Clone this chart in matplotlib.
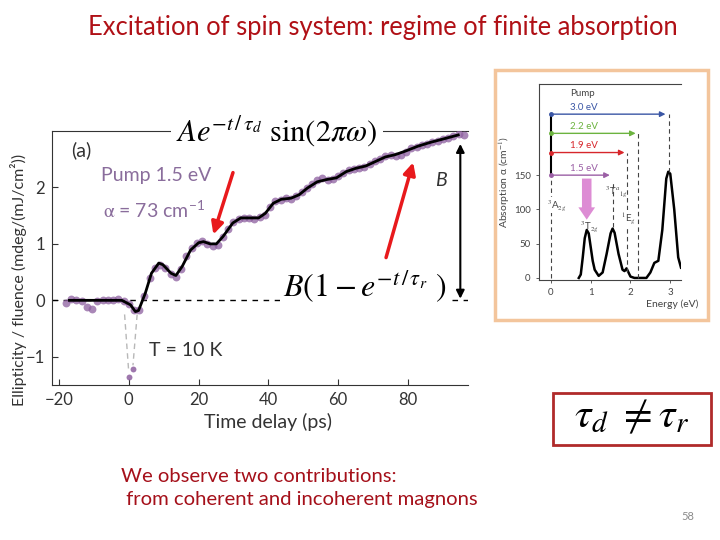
import matplotlib
matplotlib.use("Agg")
import matplotlib.pyplot as plt
from matplotlib.patches import Rectangle, FancyArrow

plt.rcParams['mathtext.fontset'] = 'stix'
plt.rcParams['font.family'] = ['Lato', 'DejaVu Sans']

# fit curve of the ellipticity signal (ps, mdeg/(mJ/cm2))
fit_t = [-17, -10, -2, 0.5, 1.9, 2.8, 4.7, 6.5, 8.6, 9.8, 12.1, 13.5, 15.3, 17.7, 20, 21.4,
         23.3, 25.1, 27, 29.8, 32.1, 34.4, 37.2, 39.1, 41.4, 43.7, 46.5, 48.8, 51.2, 54,
         56.7, 59.5, 62.3, 65.1, 67.9, 70.7, 73.5, 76.3, 79.1, 82.8, 86.5, 90.2, 94.4]
fit_y = [0.0, 0.0, 0.0, -0.08, -0.2, -0.18, 0.12, 0.48, 0.66, 0.63, 0.48, 0.44, 0.6, 0.89, 1.02, 1.04,
         1.0, 1.0, 1.13, 1.37, 1.46, 1.46, 1.46, 1.54, 1.72, 1.79, 1.81, 1.87, 1.99, 2.1,
         2.14, 2.17, 2.28, 2.34, 2.38, 2.46, 2.54, 2.58, 2.64, 2.73, 2.8, 2.86, 2.93]

# measured points
dot_t = [-18, -16.5, -15, -13.5, -12, -10.5, -9, -7.5, -6, -4.5, -3, -1.5, 0, 1.5, 3, 4.5,
         6, 7.5, 9, 10.5, 12, 13.5, 15, 16.5, 18, 19.5, 21, 22.5, 24, 25.5, 27, 28.5, 30,
         31.5, 33, 34.5, 36, 37.5, 39, 40.5, 42, 43.5, 45, 46.5, 48, 49.5, 51, 52.5, 54,
         55.5, 57, 58.5, 60, 61.5, 63, 64.5, 66, 67.5, 69, 70.5, 72, 73.5, 75, 76.5, 78,
         79.5, 81, 82.5, 84, 85.5, 87, 88.5, 90, 91.5, 93, 94.5, 96]
dot_y = [-0.04, 0.02, 0.0, -0.02, -0.12, -0.15, -0.02, 0.0, 0.01, 0.0, 0.02, -0.02, -0.07,
         -0.18, -0.17, 0.08, 0.40, 0.58, 0.62, 0.58, 0.46, 0.42, 0.55, 0.78, 0.92, 1.02,
         1.05, 1.00, 0.97, 0.98, 1.12, 1.27, 1.38, 1.44, 1.45, 1.46, 1.44, 1.47, 1.52,
         1.66, 1.76, 1.78, 1.82, 1.80, 1.84, 1.92, 1.99, 2.06, 2.13, 2.16, 2.14, 2.15,
         2.20, 2.25, 2.31, 2.33, 2.35, 2.37, 2.42, 2.46, 2.50, 2.55, 2.57, 2.56, 2.58,
         2.62, 2.69, 2.72, 2.75, 2.77, 2.81, 2.83, 2.85, 2.88, 2.92, 2.94, 2.93]
spike_t = [0.0, 1.2]
spike_y = [-1.35, -1.22]

# absorption spectrum (eV, cm-1)
abs_e = [0.7, 0.75, 0.8, 0.85, 0.9, 0.95, 1.0, 1.05, 1.1, 1.2, 1.3, 1.4, 1.5, 1.55, 1.6,
         1.7, 1.8, 1.85, 1.9, 1.95, 2.0, 2.1, 2.4, 2.5, 2.6, 2.7, 2.8, 2.9, 2.95, 3.0,
         3.1, 3.2, 3.27]
abs_a = [0, 5, 30, 58, 70, 65, 45, 25, 12, 3, 8, 35, 65, 72, 66, 35, 12, 10, 14, 8, 2, 0,
         0, 8, 22, 25, 70, 145, 155, 152, 100, 30, 15]

pump_e = [3.0, 2.2, 1.9, 1.5]
pump_level = [239, 211, 183, 150]
pump_labels = ['3.0 eV', '2.2 eV', '1.9 eV', '1.5 eV']
pump_tip = [2.95, 2.2, 1.92, 1.55]
pump_colors = ['#3a56a5', '#6cb33f', '#d7262b', '#9b5fa5']

purple = '#8d5f9f'
txt = '#333333'

fig = plt.figure(figsize=(7.2, 5.4), dpi=100)

# ---------------- main panel
ax = fig.add_axes([52 / 720, 155 / 540, 416 / 720, 254 / 540])
ax.set_xlim(-22, 97.2)
ax.set_ylim(-1.5, 3.0)
ax.spines['right'].set_visible(False)
for s in ['left', 'bottom', 'top']:
    ax.spines[s].set_color(txt)
ax.set_xticks([-20, 0, 20, 40, 60, 80])
ax.set_xticklabels(['\u221220', '0', '20', '40', '60', '80'])
ax.set_yticks([-1, 0, 1, 2])
ax.set_yticklabels(['\u22121', '0', '1', '2'])
ax.tick_params(labelsize=12, colors=txt, length=4, direction='in', pad=5)

ax.axhline(0, color='black', lw=1, dashes=(4, 4))
ax.plot([-1.2, 0.0], [-0.25, -1.28], color='#b8b8b8', lw=1, dashes=(4, 3))
ax.plot([2.4, 1.2], [-0.25, -1.15], color='#b8b8b8', lw=1, dashes=(4, 3))
ax.scatter(dot_t, dot_y, s=32, color=purple, alpha=0.75, lw=0, zorder=3)
ax.scatter(spike_t, spike_y, s=18, color=purple, alpha=0.85, lw=0, zorder=3)
ax.plot(fit_t, fit_y, color='black', lw=2, zorder=4)

ax.text(-16.5, 2.66, '(a)', fontsize=14, color=txt, va='center')
ax.text(-7.9, 2.22, 'Pump 1.5 eV', fontsize=14, color='#8a6d9c', va='center')
ax.text(-7.5, 1.6, r'$\mathrm{\alpha}$ = 73 cm$^{\mathregular{-1}}$', fontsize=14, color='#8a6d9c', va='center')
ax.text(5.7, -0.89, 'T = 10 K', fontsize=14, color=txt, va='center')
ax.text(89.5, 2.13, 'B', fontsize=14, color=txt, style='italic', va='center', ha='center')
ax.annotate('', xy=(95, -0.02), xytext=(95, 2.82),
            arrowprops=dict(arrowstyle='<|-|>', color='black', lw=1.5, mutation_scale=12))

ax.annotate('', xy=(24, 1.12), xytext=(30.1, 2.31),
            arrowprops=dict(arrowstyle='-|>', color='#e8191c', lw=2.5, mutation_scale=18), zorder=6)
ax.annotate('', xy=(81.7, 2.49), xytext=(73.5, 0.71),
            arrowprops=dict(arrowstyle='-|>', color='#e8191c', lw=2.5, mutation_scale=18), zorder=6)

fig.text(19 / 720, 1 - 280 / 540, 'Ellipticity / fluence (mdeg/(mJ/cm\u00b2))', rotation=90,
         fontsize=11.5, color=txt, ha='center', va='center')
fig.text(268 / 720, 1 - 422 / 540, 'Time delay (ps)', fontsize=14, color=txt, ha='center', va='center')

fig.text(277 / 720, 1 - 131 / 540, r'$Ae^{-t\,/\,\tau_d}\ \mathrm{sin}(2\pi\omega)$', fontsize=22,
         ha='center', va='center', bbox=dict(facecolor='white', edgecolor='none', pad=4), zorder=10)
fig.text(365 / 720, 1 - 287 / 540, r'$B(1-e^{-t\,/\,\tau_r}\ )$', fontsize=23,
         ha='center', va='center', bbox=dict(facecolor='white', edgecolor='none', pad=2), zorder=10)

# ---------------- inset with absorption spectrum
fig.patches.append(Rectangle((495 / 720, 220 / 540), 213 / 720, 250 / 540, transform=fig.transFigure,
                             facecolor='none', edgecolor='#f3c59c', lw=2.5))
axi = fig.add_axes([539 / 720, 260 / 540, 142 / 720, 196 / 540])
axi.set_xlim(-0.3, 3.27)
axi.set_ylim(-3, 283)
axi.spines['right'].set_visible(False)
for s in ['left', 'bottom', 'top']:
    axi.spines[s].set_color('#444444')
    axi.spines[s].set_linewidth(0.8)
axi.set_xticks([0, 1, 2, 3])
axi.set_yticks([0, 50, 100, 150])
axi.tick_params(labelsize=7, colors='#444444', length=2.5, width=0.6)
axi.set_ylabel('Absorption \u03b1 (cm$^{-1}$)', fontsize=7.5, color='#444444', labelpad=1)

axi.plot(abs_e, abs_a, color='black', lw=1.8)
axi.plot([0, 0], [0, 150], color='#444444', lw=0.8, dashes=(4, 3))
axi.plot([0, 0], [150, pump_level[0]], color='black', lw=1.5)
axi.text(0.48, 269, 'Pump', fontsize=7, color='#444444', va='center')
for e, lv, lab, tip, c in zip(pump_e, pump_level, pump_labels, pump_tip, pump_colors):
    axi.annotate('', xy=(tip, lv), xytext=(0, lv),
                 arrowprops=dict(arrowstyle='-|>', color=c, lw=1, mutation_scale=8))
    axi.plot(0, lv, 'o', color=c, ms=2.5)
    axi.text(0.48, lv + 10, lab, fontsize=7, color=c, va='center')
axi.plot([2.97, 2.97], [155, pump_level[0]], color='#444444', lw=0.8, dashes=(4, 3))
axi.plot([2.2, 2.2], [0, pump_level[1]], color='#444444', lw=0.8, dashes=(4, 3))
axi.plot([1.92, 1.92], [8, pump_level[2]], color='#444444', lw=0.8, dashes=(4, 3))
axi.plot([1.55, 1.55], [75, pump_level[3] - 10], color='#444444', lw=0.8, dashes=(4, 3))
axi.text(-0.1, 106, '$^3$A$_{2g}$', fontsize=7, color='#444444', va='center', ha='left',
         bbox=dict(facecolor='white', edgecolor='none', pad=0.5))
axi.text(1.36, 126, '$^3$T$^a$$_{1g}$', fontsize=7, color='#444444', va='center')
axi.text(1.76, 87, '$^1$E$_g$', fontsize=7, color='#444444', va='center',
         bbox=dict(facecolor='white', edgecolor='none', pad=0.3))
axi.text(0.72, 75, '$^3$T$_{2g}$', fontsize=7, color='#444444', va='center')
axi.add_patch(FancyArrow(0.9, 145, 0, -60, width=0.24, head_width=0.42, head_length=18,
                         length_includes_head=True, color='#dc86d2', lw=0, alpha=0.95, zorder=5))
fig.text(672 / 720, 1 - 304 / 540, 'Energy (eV)', fontsize=7.5, color='#444444', ha='center', va='center')

# ---------------- slide text
fig.text(383 / 720, 1 - 27 / 540, 'Excitation of spin system: regime of finite absorption',
         fontsize=18.4, color='#b01016', ha='center', va='center')
fig.text(121 / 720, 1 - 477 / 540, 'We observe two contributions:', fontsize=14.6,
         color='#a5101a', ha='left', va='center')
fig.text(121 / 720, 1 - 500 / 540, ' from coherent and incoherent magnons', fontsize=14.6,
         color='#a5101a', ha='left', va='center')
fig.text(688 / 720, 1 - 516 / 540, '58', fontsize=8, color='#8a8a8a', ha='center', va='center')

fig.patches.append(Rectangle((553 / 720, 95 / 540), 158 / 720, 52 / 540, transform=fig.transFigure,
                             facecolor='none', edgecolor='#b02a2a', lw=2))
fig.text(632 / 720, 1 - 417 / 540, r'$\tau_d\ \neq \tau_r$', fontsize=30, ha='center', va='center')

fig.savefig('out.png', dpi=100)
